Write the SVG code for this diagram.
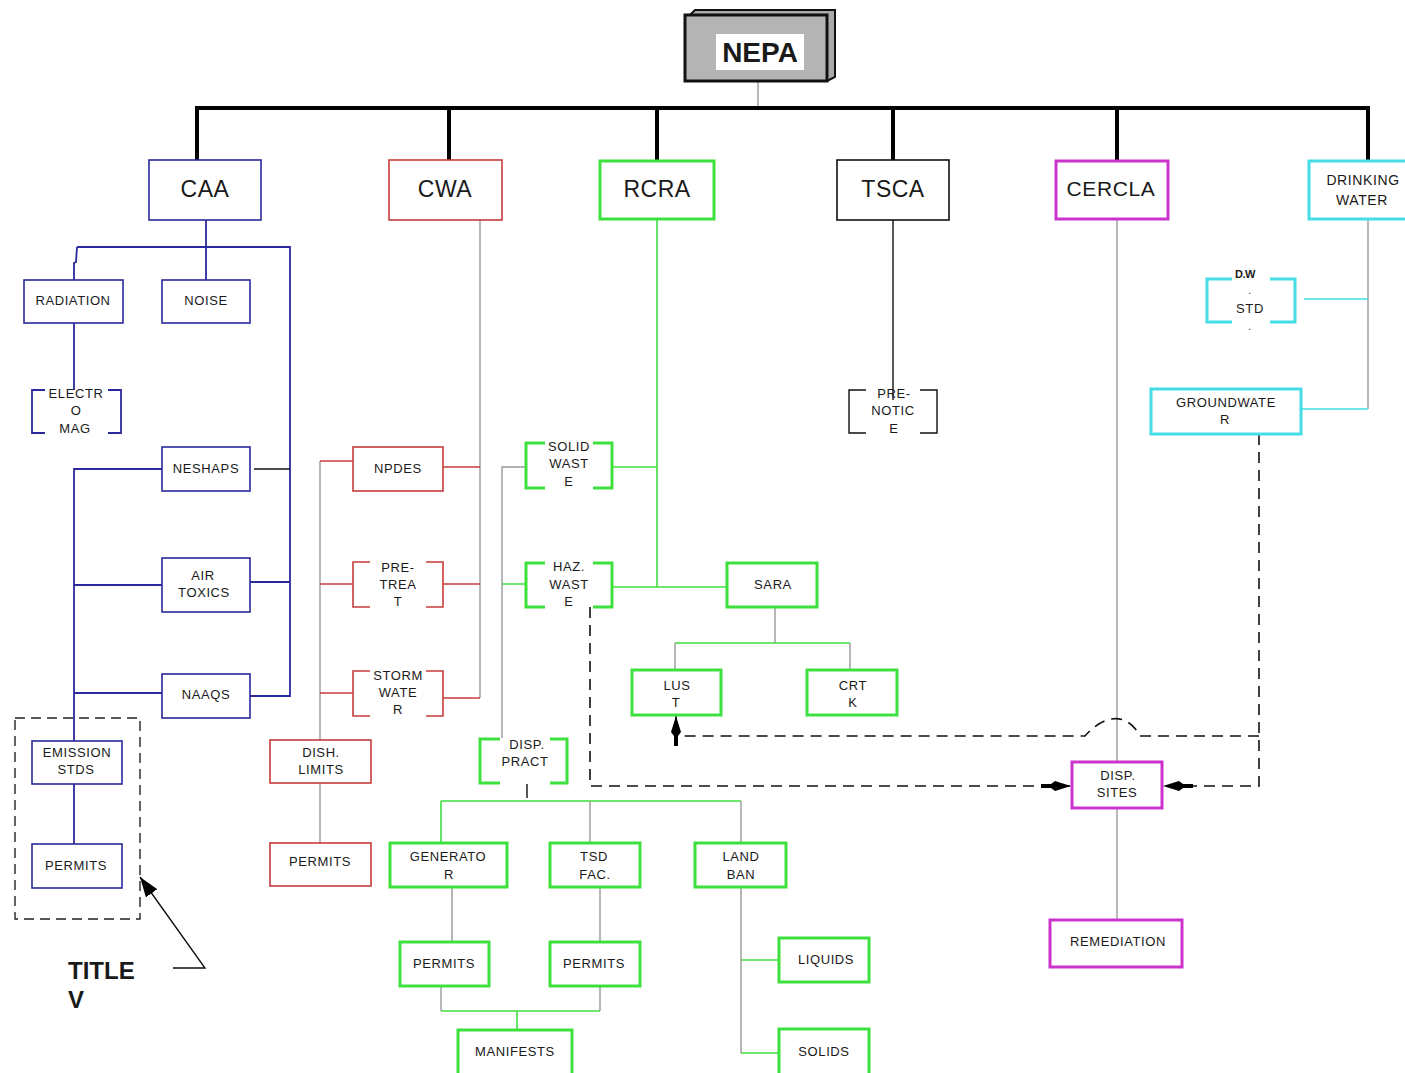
<svg xmlns="http://www.w3.org/2000/svg" width="1405" height="1073" viewBox="0 0 1405 1073">
<defs>
<style>
text{font-family:"Liberation Sans",Arial,sans-serif;fill:#1a1a1a;text-anchor:middle;font-size:13px;letter-spacing:0.6px}
.big{font-size:23px;letter-spacing:0.5px}
.blue{fill:#fff;stroke:#2a2a9c;stroke-width:1.6}
.red{fill:#fff;stroke:#c83c3c;stroke-width:1.6}
.green{fill:#fff;stroke:#3ee03e;stroke-width:3}
.mag{fill:#fff;stroke:#cc33cc;stroke-width:3}
.cyan{fill:#fff;stroke:#44dde6;stroke-width:3}
.blk{fill:#fff;stroke:#111;stroke-width:1.6}
.gb{stroke:#3ee03e;stroke-width:3;fill:none}
.cyb{stroke:#44dde6;stroke-width:3;fill:none}
.cb{stroke:#2a2a9c;stroke-width:1.8;fill:none}
.cr{stroke:#c83c3c;stroke-width:1.6;fill:none}
.cg{stroke:#3ee03e;stroke-width:1.6;fill:none}
.cc{stroke:#44dde6;stroke-width:1.6;fill:none}
.cy{stroke:#999;stroke-width:1.4;fill:none}
.ck{stroke:#111;stroke-width:1.4;fill:none}
.bus{stroke:#000;stroke-width:4;fill:none}
.dash{stroke:#111;stroke-width:1.6;fill:none;stroke-dasharray:11 7}
.tv{font-size:24px;text-anchor:start;letter-spacing:0;font-weight:bold}
</style>
<marker id="ah" viewBox="0 0 30 12" refX="30" refY="6" markerWidth="30" markerHeight="12" markerUnits="userSpaceOnUse" orient="auto">
<path d="M0,4 L10,4 L14,1 L30,6 L14,11 L10,8 L0,8 Z" fill="#000"/>
</marker>
<marker id="ah2" viewBox="0 0 20 14" refX="20" refY="7" markerWidth="20" markerHeight="14" markerUnits="userSpaceOnUse" orient="auto">
<path d="M0,7 L20,0 L20,14 Z" fill="#000" transform="rotate(180 10 7)"/>
</marker>
</defs>

<g id="connectors">
<line x1="758" y1="81" x2="758" y2="108" class="cy"/>
<path class="bus" d="M197,161 V108 H1368 V161 M449,108 V161 M657,108 V161 M893,108 V161 M1117,108 V161"/>
<path class="cb" d="M206,220 V247 M77,247 H290 V696 H250 M77,247 L76,262 L74,263 V280 M206,247 V280"/>
<path class="cb" d="M74,323 V390"/>
<path class="ck" d="M254,469 H290"/>
<path class="cb" d="M162,469 H74 V741 M74,585 H162 M74,693 H162 M250,582 H290"/>
<path class="cb" d="M74,784 V844"/>
<path class="cy" d="M480,220 V698 M320,461 V740 M320,783 V843"/>
<path class="cr" d="M443,467 H480 M353,461 H320 M443,584 H480 M353,584 H320 M443,698 H480 M353,693 H320"/>
<path class="cg" d="M657,220 V587 M613,467 H657 M613,587 H727 M502,584 H525 M675,643 H850 M441,801 H741 M441,801 V843 M441,1011 H600 M517,1011 V1030 M741,960 H779 M741,1053 H779"/>
<path class="cy" d="M525,467 H502 V738 M775,607 V643 M675,643 V670 M850,643 V670 M590,801 V843 M741,801 V843 M452,887 V942 M600,887 V942 M441,986 V1011 M600,986 V1011 M741,887 V1053"/>
<path class="ck" d="M527,784 V798"/>
<path class="ck" d="M893,220 V400"/>
<path class="cy" d="M1117,220 V762 M1117,808 V920"/>
<path class="cy" d="M1368,220 V409"/>
<path class="cc" d="M1304,299 H1368 M1301,409 H1368"/>
<path class="dash" d="M1259,434 V786 H1163" marker-end="url(#ah)"/>
<path class="dash" d="M1259,736 H1140 C1130,716 1108,710 1085,736 H676 V716" marker-end="url(#ah)"/>
<path class="dash" d="M590,607 V786 H1071" marker-end="url(#ah)"/>
<path class="ck" d="M173,968 H205 L140,877" marker-end="url(#ah2)"/>
</g>

<g id="nepa">
<path d="M690,15 L695,10 H835 V77 L827,81" fill="#aaa" stroke="#111" stroke-width="2"/>
<rect x="685" y="15" width="142" height="66" fill="#b4b4b4" stroke="#111" stroke-width="3"/>
<rect x="716" y="34" width="88" height="36" fill="#fff"/>
<text x="760" y="62" style="font-size:28px;font-weight:bold;letter-spacing:0">NEPA</text>
</g>

<g id="caa"><rect class="blue" x="149" y="160" width="112" height="60"/><text class="big" x="205" y="197">CAA</text></g>
<g id="cwa"><rect class="red" x="389" y="160" width="113" height="60"/><text class="big" x="445" y="197">CWA</text></g>
<g id="rcra"><rect class="green" x="600" y="161" width="114" height="58"/><text class="big" x="657" y="197">RCRA</text></g>
<g id="tsca"><rect class="blk" x="837" y="160" width="112" height="60"/><text class="big" x="893" y="197">TSCA</text></g>
<g id="cercla"><rect class="mag" x="1056" y="161" width="112" height="58"/><text x="1111" y="196" style="font-size:21px">CERCLA</text></g>
<g id="drinking-water"><rect class="cyan" x="1309" y="161" width="100" height="58"/><text x="1363" y="185" style="font-size:14px">DRINKING</text><text x="1362" y="205" style="font-size:14px">WATER</text></g>

<g id="radiation"><rect class="blue" x="24" y="280" width="99" height="43"/><text x="73" y="305">RADIATION</text></g>
<g id="noise"><rect class="blue" x="162" y="280" width="88" height="43"/><text x="206" y="305">NOISE</text></g>
<g id="electromag"><path class="cb" d="M45,390 H32 V433 H45 M108,390 H121 V433 H108"/><text x="76" y="398">ELECTR</text><text x="76" y="415">O</text><text x="75" y="433">MAG</text></g>
<g id="neshaps"><rect class="blue" x="162" y="447" width="88" height="44"/><text x="206" y="473">NESHAPS</text></g>
<g id="air-toxics"><rect class="blue" x="162" y="558" width="88" height="54"/><text x="203" y="580">AIR</text><text x="204" y="597">TOXICS</text></g>
<g id="naaqs"><rect class="blue" x="162" y="674" width="88" height="44"/><text x="206" y="699">NAAQS</text></g>
<g id="title-v-box"><rect x="15" y="718" width="125" height="201" fill="none" stroke="#222" stroke-width="1.4" stroke-dasharray="10 6"/></g>
<g id="emission-stds"><rect class="blue" x="32" y="741" width="90" height="43"/><text x="77" y="757">EMISSION</text><text x="76" y="774">STDS</text></g>
<g id="caa-permits"><rect class="blue" x="32" y="844" width="90" height="44"/><text x="76" y="870">PERMITS</text></g>
<g id="title-v"><text class="tv" x="68" y="979">TITLE</text><text class="tv" x="68" y="1008">V</text></g>

<g id="npdes"><rect class="red" x="353" y="447" width="90" height="44"/><text x="398" y="473">NPDES</text></g>
<g id="pretreat"><path class="cr" d="M370,562 H353 V607 H370 M426,562 H443 V607 H426"/><text x="398" y="572">PRE-</text><text x="398" y="589">TREA</text><text x="398" y="606">T</text></g>
<g id="stormwater"><path class="cr" d="M370,671 H353 V716 H370 M426,671 H443 V716 H426"/><text x="398" y="680">STORM</text><text x="398" y="697">WATE</text><text x="398" y="714">R</text></g>
<g id="dish-limits"><rect class="red" x="270" y="740" width="101" height="43"/><text x="321" y="757">DISH.</text><text x="321" y="774">LIMITS</text></g>
<g id="cwa-permits"><rect class="red" x="270" y="843" width="101" height="43"/><text x="320" y="866">PERMITS</text></g>

<g id="solid-waste"><path class="gb" d="M545,443 H526 V488 H545 M593,443 H612 V488 H593"/><text x="569" y="451">SOLID</text><text x="569" y="468">WAST</text><text x="569" y="486">E</text></g>
<g id="haz-waste"><path class="gb" d="M545,563 H526 V607 H545 M593,563 H612 V607 H593"/><text x="569" y="571">HAZ.</text><text x="569" y="589">WAST</text><text x="569" y="606">E</text></g>
<g id="sara"><rect class="green" x="727" y="563" width="90" height="44"/><text x="773" y="589">SARA</text></g>
<g id="lust"><rect class="green" x="632" y="670" width="89" height="45"/><text x="677" y="690">LUS</text><text x="676" y="707">T</text></g>
<g id="crtk"><rect class="green" x="807" y="670" width="90" height="45"/><text x="853" y="690">CRT</text><text x="853" y="707">K</text></g>
<g id="disp-pract"><path class="gb" d="M500,739 H480 V783 H500 M550,739 H567 V783 H550"/><text x="527" y="749">DISP.</text><text x="525" y="766">PRACT</text></g>
<g id="generator"><rect class="green" x="390" y="843" width="117" height="44"/><text x="448" y="861">GENERATO</text><text x="449" y="879">R</text></g>
<g id="tsd-fac"><rect class="green" x="550" y="843" width="90" height="44"/><text x="594" y="861">TSD</text><text x="595" y="879">FAC.</text></g>
<g id="land-ban"><rect class="green" x="695" y="843" width="91" height="44"/><text x="741" y="861">LAND</text><text x="741" y="879">BAN</text></g>
<g id="gen-permits"><rect class="green" x="400" y="942" width="89" height="44"/><text x="444" y="968">PERMITS</text></g>
<g id="tsd-permits"><rect class="green" x="550" y="942" width="90" height="44"/><text x="594" y="968">PERMITS</text></g>
<g id="manifests"><rect class="green" x="458" y="1030" width="114" height="46"/><text x="515" y="1056">MANIFESTS</text></g>
<g id="liquids"><rect class="green" x="779" y="938" width="90" height="44"/><text x="826" y="964">LIQUIDS</text></g>
<g id="solids"><rect class="green" x="779" y="1029" width="90" height="46"/><text x="824" y="1056">SOLIDS</text></g>

<g id="pre-notice"><path class="ck" d="M866,390 H849 V433 H866 M920,390 H937 V433 H920"/><text x="894" y="398">PRE-</text><text x="893" y="415">NOTIC</text><text x="894" y="433">E</text></g>

<g id="disp-sites"><rect class="mag" x="1072" y="762" width="90" height="46"/><text x="1118" y="780">DISP.</text><text x="1117" y="797">SITES</text></g>
<g id="remediation"><rect class="mag" x="1050" y="920" width="132" height="47"/><text x="1118" y="946">REMEDIATION</text></g>

<g id="dw-std"><path class="cyb" d="M1232,279 H1207 V322 H1232 M1270,279 H1295 V322 H1270"/><text x="1245" y="278" style="font-size:11px;font-weight:bold;letter-spacing:-0.5px">D.W</text><text x="1250" y="294" style="font-size:10px">.</text><text x="1250" y="313">STD</text><text x="1250" y="330" style="font-size:10px">.</text></g>
<g id="groundwater"><rect class="cyan" x="1151" y="389" width="150" height="45"/><text x="1226" y="407">GROUNDWATE</text><text x="1225" y="424">R</text></g>
</svg>
